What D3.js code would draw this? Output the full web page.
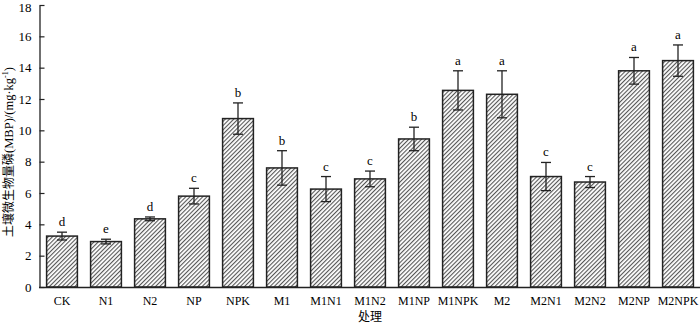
<!DOCTYPE html>
<html>
<head>
<meta charset="utf-8">
<script src="https://cdn.jsdelivr.net/npm/d3@7"></script>
<style>
  html, body { margin: 0; padding: 0; background: #fff; }
  svg { display: block; }
  text { fill: #000; }
</style>
</head>
<body>
<svg id="chart" width="700" height="325"></svg>
<script>
// Treatments, mean soil microbial biomass P, standard errors and significance letters
const categories = ["CK", "N1", "N2", "NP", "NPK", "M1", "M1N1", "M1N2", "M1NP", "M1NPK", "M2", "M2N1", "M2N2", "M2NP", "M2NPK"];
const values = [3.25, 2.9, 4.35, 5.8, 10.75, 7.6, 6.25, 6.9, 9.45, 12.55, 12.3, 7.05, 6.7, 13.8, 14.45];
const errors = [0.25, 0.15, 0.12, 0.5, 1.0, 1.1, 0.8, 0.5, 0.75, 1.25, 1.5, 0.9, 0.35, 0.85, 1.0];
const letters = ["d", "e", "d", "c", "b", "b", "c", "c", "b", "a", "a", "c", "c", "a", "a"];
const yTicks = [0, 2, 4, 6, 8, 10, 12, 14, 16, 18];

const SERIF = "'Liberation Serif', 'Times New Roman', serif";
const CJK = "'Noto Sans CJK SC', sans-serif";

const svg = d3.select("#chart");

const x = d3.scaleBand().domain(categories).range([40, 700]).paddingInner(0.3).paddingOuter(0.15);
const y = d3.scaleLinear().domain([0, 18]).range([287, 5]);

// diagonal hatch fill
const defs = svg.append("defs");
const pat = defs.append("pattern")
  .attr("id", "hatch")
  .attr("patternUnits", "userSpaceOnUse")
  .attr("width", 3).attr("height", 3)
  .attr("patternTransform", "rotate(45)");
pat.append("rect").attr("width", 3).attr("height", 3).attr("fill", "#fff");
pat.append("line").attr("x1", 0.6).attr("y1", 0).attr("x2", 0.6).attr("y2", 3)
  .attr("stroke", "#444").attr("stroke-width", 1);

// bars
svg.append("g").selectAll("rect")
  .data(categories)
  .join("rect")
  .attr("x", d => x(d))
  .attr("y", (d, i) => y(values[i]))
  .attr("width", x.bandwidth())
  .attr("height", (d, i) => y(0) - y(values[i]))
  .attr("fill", "url(#hatch)")
  .attr("stroke", "#222")
  .attr("stroke-width", 1.5);

// error bars
const eb = svg.append("g").attr("stroke", "#222").attr("stroke-width", 1.3);
categories.forEach((c, i) => {
  const cx = x(c) + x.bandwidth() / 2;
  const top = y(values[i] + errors[i]);
  const bot = y(values[i] - errors[i]);
  eb.append("line").attr("x1", cx).attr("x2", cx).attr("y1", top).attr("y2", bot);
  eb.append("line").attr("x1", cx - 5).attr("x2", cx + 5).attr("y1", top).attr("y2", top);
  eb.append("line").attr("x1", cx - 5).attr("x2", cx + 5).attr("y1", bot).attr("y2", bot);
});

// significance letters
svg.append("g").selectAll("text")
  .data(categories)
  .join("text")
  .attr("x", d => x(d) + x.bandwidth() / 2)
  .attr("y", (d, i) => y(values[i] + errors[i]) - 6)
  .attr("text-anchor", "middle")
  .style("font-family", SERIF)
  .style("font-size", "13px")
  .text((d, i) => letters[i]);

// y axis (ticks pointing inward)
const yAxis = svg.append("g")
  .attr("transform", "translate(39.5,0)")
  .call(d3.axisRight(y).tickValues(yTicks).tickSize(5).tickSizeOuter(0).tickFormat(d3.format("d")));
yAxis.select(".domain").attr("stroke", "#222").attr("stroke-width", 1.3);
yAxis.selectAll(".tick line").attr("stroke", "#222").attr("stroke-width", 1.2);
yAxis.selectAll(".tick text")
  .attr("x", -8).attr("text-anchor", "end")
  .style("font-family", SERIF)
  .style("font-size", "13px");
// keep the top label inside the frame
yAxis.selectAll(".tick text").filter(d => d === 18).attr("dy", "0.5em");

// x axis
const xAxis = svg.append("g")
  .attr("transform", "translate(0,287.5)")
  .call(d3.axisBottom(x).tickSize(0).tickSizeOuter(0));
xAxis.select(".domain").attr("d", "M39,0H700").attr("stroke", "#222").attr("stroke-width", 1.3);
xAxis.selectAll(".tick text")
  .attr("dy", 0).attr("y", 17)
  .style("font-family", SERIF)
  .style("font-size", "12px");

// axis titles
svg.append("text")
  .attr("x", 370).attr("y", 321)
  .attr("text-anchor", "middle")
  .style("font-family", CJK)
  .style("font-size", "12px")
  .text("处理");

const yt = svg.append("text")
  .attr("transform", "translate(13,152) rotate(-90)")
  .attr("text-anchor", "middle")
  .style("font-family", SERIF)
  .style("font-size", "12.5px");
yt.append("tspan").style("font-family", CJK).style("font-size", "12px").text("土壤微生物量磷");
yt.append("tspan").text("(MBP)/(mg·kg");
yt.append("tspan").style("font-size", "8px").attr("dy", -5).text("-1");
yt.append("tspan").attr("dy", 5).text(")");
</script>
</body>
</html>
